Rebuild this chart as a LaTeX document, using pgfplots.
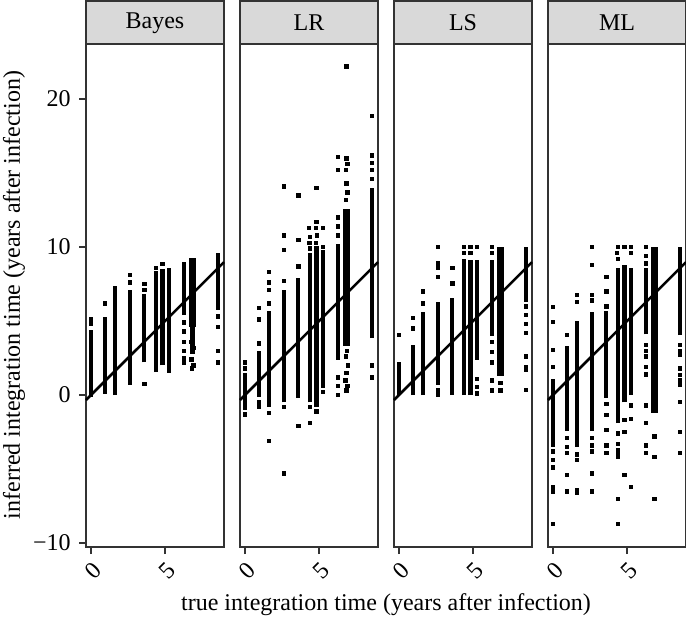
\documentclass[border=0pt]{standalone}
\usepackage{fontspec}
\setmainfont{Liberation Serif}
\usepackage{pgfplots}
\pgfplotsset{compat=1.18}
\definecolor{frame}{HTML}{333333}
\definecolor{stripfill}{HTML}{D9D9D9}
\pgfplotsset{
  panel/.style={
    scale only axis, width=69pt, height=251.5pt, anchor=south west,
    xmin=-0.34, xmax=8.98, ymin=-10.27, ymax=23.72,
    axis line style={frame, line width=0.8pt},
    xtick={0,5}, xticklabels={0,5},
    ytick=\empty,
    xtick pos=lower, ytick pos=left,
    tick style={frame, line width=0.9pt},
    tick align=outside, major tick length=3.5pt,
    xticklabel style={yshift=-8.2pt, xshift=1pt, rotate=45, anchor=center},
    clip=false,
  },
  seg/.style={black, line width=2.1pt, unbounded coords=jump, forget plot},
  wseg/.style={black, line width=3.6pt, unbounded coords=jump, forget plot},
  pts/.style={only marks, mark=square*, mark size=0.85pt, black, forget plot},
  idl/.style={black, line width=1.3pt, forget plot},
}
\newcommand{\strip}[1]{%
  \draw[frame, line width=0.8pt, fill=stripfill] (rel axis cs:0,1) rectangle ++(69pt,21.5pt);
  \node[black] at ([yshift=10.5pt]rel axis cs:0.5,1) {#1};
}
\begin{document}
\fontsize{12}{14.4}\selectfont
\begin{tikzpicture}
\useasboundingbox (0,0) rectangle (343pt,309pt);
% ---------------- Bayes
\begin{axis}[panel, at={(43pt,35.5pt)},
  ytick={-10,0,10,20}, yticklabels={−10,0,10,20}]
\addplot[seg] coordinates {
(0,-0.15)(0,4.4)(0,nan)
(0.93,0.1)(0.93,5.3)(0.93,nan)
(1.6,0.0)(1.6,7.0)(1.6,nan)
(2.64,0.7)(2.64,7.1)(2.64,nan)
(3.6,2.2)(3.6,6.8)(3.6,nan)
(4.37,1.55)(4.37,8.4)(4.37,nan)
(4.82,2.0)(4.82,8.5)(4.82,nan)
(5.27,1.5)(5.27,8.6)(5.27,nan)
(6.28,5.4)(6.28,9.0)(6.28,nan)
(6.85,2.8)(6.85,4.6)(6.85,nan)
(8.55,5.75)(8.55,9.6)};
\addplot[wseg] coordinates {(6.85,4.6)(6.85,9.25)};
\addplot[pts] coordinates {
(0,4.8)(0,5.1)(0.93,6.2)(1.6,7.2)(2.64,7.6)(2.64,8.1)(3.6,7.1)(3.6,7.5)(3.6,0.75)
(4.37,8.6)(4.82,8.85)(6.28,4.9)(6.28,4.3)(6.28,3.6)(6.28,3.0)(6.28,2.5)(6.28,2.2)
(6.78,2.4)(6.9,2.0)(6.82,1.8)(6.95,3.2)(6.75,3.6)
(8.55,5.3)(8.55,4.6)(8.55,3.0)(8.55,2.2)};
\addplot[idl] coordinates {(-0.34,-0.34)(8.98,8.98)};
\strip{Bayes}
\end{axis}
% ---------------- LR
\begin{axis}[panel, at={(120pt,35.5pt)}]
\addplot[seg] coordinates {
(0,-1.0)(0,1.5)(0,nan)
(0.93,-0.1)(0.93,3.0)(0.93,nan)
(1.6,-0.8)(1.6,5.7)(1.6,nan)
(2.64,-0.5)(2.64,7.1)(2.64,nan)
(3.6,-0.2)(3.6,7.9)(3.6,nan)
(4.37,-0.5)(4.37,9.6)(4.37,nan)
(4.82,-0.8)(4.82,9.8)(4.82,nan)
(5.27,0.5)(5.27,9.8)(5.27,nan)
(6.28,2.4)(6.28,10.2)(6.28,nan)
(8.55,3.85)(8.55,14.0)};
\addplot[wseg] coordinates {(6.85,3.3)(6.85,12.6)};
\addplot[pts] coordinates {
(0,2.2)(0,1.8)(0,-1.3)
(0.93,5.9)(0.93,5.1)(0.93,3.5)(0.93,-0.5)(0.93,-0.8)
(1.6,8.3)(1.6,7.6)(1.6,7.1)(1.6,6.2)(1.6,-1.2)(1.6,-3.1)
(2.64,14.1)(2.64,10.8)(2.64,9.8)(2.64,7.7)(2.64,-0.8)(2.64,-5.3)
(3.6,13.5)(3.6,10.5)(3.6,8.7)(3.6,-2.1)
(4.32,11.3)(4.4,10.7)(4.35,10.3)(4.37,9.9)(4.37,-1.9)(4.37,-0.8)
(4.82,14.0)(4.82,11.7)(4.78,11.3)(4.85,10.8)(4.8,10.3)(4.82,9.9)(4.82,-1.1)
(5.27,11.3)(5.27,10.0)(5.27,0.2)
(6.28,16.1)(6.28,15.2)(6.28,12.0)(6.28,11.4)(6.28,10.8)(6.28,1.2)(6.28,0.6)(6.28,0.0)
(6.85,22.2)(6.85,16.0)(6.9,15.6)(6.8,15.2)(6.85,14.3)(6.92,13.7)(6.8,13.2)
(6.88,3.0)(6.8,2.6)(6.93,2.0)(6.85,1.5)(6.78,1.0)(6.9,0.6)(6.85,0.3)
(8.55,18.85)(8.55,16.2)(8.55,15.7)(8.55,15.2)(8.55,14.6)(8.55,2.0)(8.55,1.2)};
\addplot[idl] coordinates {(-0.34,-0.34)(8.98,8.98)};
\strip{LR}
\end{axis}
% ---------------- LS
\begin{axis}[panel, at={(197pt,35.5pt)}]
\addplot[seg] coordinates {
(0,0)(0,2.2)(0,nan)
(0.93,0)(0.93,3.4)(0.93,nan)
(1.6,0)(1.6,5.6)(1.6,nan)
(2.64,0.7)(2.64,6.3)(2.64,nan)
(3.6,0)(3.6,6.55)(3.6,nan)
(4.37,0)(4.37,9.2)(4.37,nan)
(4.82,0)(4.82,9.1)(4.82,nan)
(5.27,2.4)(5.27,9.1)(5.27,nan)
(6.28,4.0)(6.28,9.1)(6.28,nan)
(8.55,6.3)(8.55,10)};
\addplot[wseg] coordinates {(6.85,1.3)(6.85,10)};
\addplot[pts] coordinates {
(0,4.05)(0.93,5.2)(0.93,4.5)(1.6,7.0)(1.6,6.2)
(2.64,10)(2.64,8.9)(2.64,8.6)(2.64,8.0)(2.64,0.3)(2.64,0.0)
(3.6,8.6)(3.6,7.55)(4.37,10)(4.37,9.6)(4.82,10)(4.82,9.6)
(5.27,10)(5.27,1.1)(5.27,0.55)(5.27,0.1)
(6.28,10)(6.28,9.6)(6.28,3.6)(6.28,2.9)(6.28,2.2)(6.28,1.0)(6.28,0.3)
(6.85,0.8)(6.85,0.3)
(8.55,6.0)(8.55,5.4)(8.55,4.8)(8.55,4.2)(8.55,2.6)(8.55,1.9)(8.55,1.7)(8.55,0.35)};
\addplot[idl] coordinates {(-0.34,-0.34)(8.98,8.98)};
\strip{LS}
\end{axis}
% ---------------- ML
\begin{axis}[panel, at={(274pt,35.5pt)}]
\addplot[seg] coordinates {
(0,-3.5)(0,1.1)(0,nan)
(0.93,-2.4)(0.93,3.3)(0.93,nan)
(1.6,-3.5)(1.6,5.0)(1.6,nan)
(2.64,-2.4)(2.64,5.6)(2.64,nan)
(3.6,-0.2)(3.6,5.7)(3.6,nan)
(4.37,-1.9)(4.37,8.6)(4.37,nan)
(4.82,-0.5)(4.82,8.8)(4.82,nan)
(5.27,0.0)(5.27,8.6)(5.27,nan)
(6.28,4.1)(6.28,8.6)(6.28,nan)
(8.55,4.05)(8.55,10)};
\addplot[wseg] coordinates {(6.85,-1.2)(6.85,10)};
\addplot[pts] coordinates {
(0,5.97)(0,4.95)(0,3.04)(0,1.9)(0,-3.8)(0,-4.4)(0,-4.9)(0,-6.2)(0,-6.5)(0,-8.7)
(0.93,4.05)(0.93,-2.9)(0.93,-3.5)(0.93,-3.9)(0.93,-5.4)(0.93,-6.5)
(1.6,6.75)(1.6,6.3)(1.6,-4.0)(1.6,-4.4)(1.6,-6.4)(1.6,-6.6)
(2.64,10)(2.64,8.8)(2.64,6.75)(2.64,6.4)(2.64,-2.9)(2.64,-3.4)(2.64,-3.8)(2.64,-5.3)(2.64,-6.5)
(3.6,8.0)(3.6,7.0)(3.6,6.0)(3.6,-0.6)(3.6,-1.35)(3.6,-2.36)(3.6,-3.4)(3.6,-3.9)
(4.37,10)(4.32,9.6)(4.4,9.2)(4.37,-2.6)(4.37,-3.3)(4.37,-3.7)(4.37,-4.0)(4.37,-4.2)(4.37,-7.0)(4.37,-8.7)
(4.82,10)(4.82,-1.7)(4.82,-2.5)(4.82,-5.4)
(5.27,10)(5.27,9.6)(5.27,-0.7)(5.27,-1.6)(5.27,-6.2)
(6.28,10)(6.28,9.4)(6.28,8.9)(6.28,3.4)(6.28,3.0)(6.28,2.6)(6.28,1.9)(6.28,1.4)(6.28,-0.7)(6.28,-1.9)(6.28,-3.4)(6.28,-3.9)
(6.85,-2.8)(6.85,-4.2)(6.85,-7.0)
(8.55,3.4)(8.55,3.0)(8.55,2.7)(8.55,1.8)(8.55,1.35)(8.55,1.0)(8.55,0.7)(8.55,-0.45)(8.55,-2.5)(8.55,-3.9)};
\addplot[idl] coordinates {(-0.34,-0.34)(8.98,8.98)};
\strip{ML}
\end{axis}
\node[rotate=90] at (7pt,161.5pt) {inferred integration time (years after infection)};
\node at (193pt,6.5pt) {true integration time (years after infection)};
\end{tikzpicture}
\end{document}
